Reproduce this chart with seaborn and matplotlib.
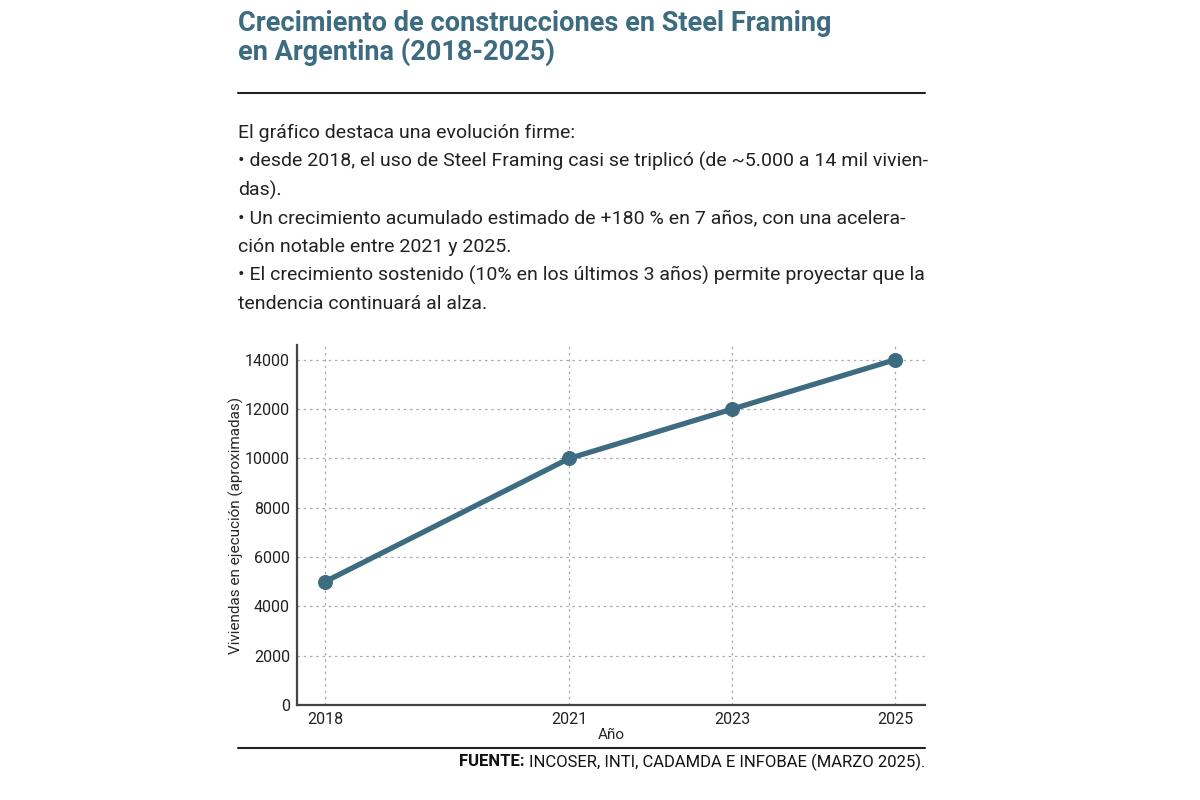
import matplotlib
matplotlib.use('Agg')
import matplotlib.pyplot as plt
import seaborn as sns
import pandas as pd

# datos
anios = [2018, 2021, 2023, 2025]
viviendas = [5000, 10000, 12000, 14000]
y_ticks = [0, 2000, 4000, 6000, 8000, 10000, 12000, 14000]

titulo = 'Crecimiento de construcciones en Steel Framing\nen Argentina (2018-2025)'
texto = ['El gráfico destaca una evolución firme:',
         '• desde 2018, el uso de Steel Framing casi se triplicó (de ~5.000 a 14 mil vivien-',
         'das).',
         '• Un crecimiento acumulado estimado de +180 % en 7 años, con una acelera-',
         'ción notable entre 2021 y 2025.',
         '• El crecimiento sostenido (10% en los últimos 3 años) permite proyectar que la',
         'tendencia continuará al alza.']

sns.set_style('white')
plt.rcParams['font.family'] = ['Roboto', 'DejaVu Sans']

azul = '#3d6b80'
gris = '#444444'

df = pd.DataFrame({'anio': anios, 'viviendas': viviendas})

fig = plt.figure(figsize=(12, 8), dpi=100)
ax = fig.add_axes([297 / 1200, 95 / 800, 628 / 1200, 360 / 800])

sns.lineplot(data=df, x='anio', y='viviendas', ax=ax, color=azul,
             linewidth=3.8, marker='o', markersize=10, markeredgecolor=azul)

ax.set_xlim(2017.656, 2025.37)
ax.set_ylim(0, 14600)
ax.set_xticks(anios)
ax.set_yticks(y_ticks)
ax.tick_params(axis='both', labelsize=11.5, colors='#222222', length=3, width=1, pad=2)
ax.grid(True, linestyle=(0, (2, 3)), color='#aaaaaa', linewidth=0.9)
for lado in ['top', 'right']:
    ax.spines[lado].set_visible(False)
for lado in ['left', 'bottom']:
    ax.spines[lado].set_color(gris)
    ax.spines[lado].set_linewidth(1.6)
ax.set_xlabel('Año', fontsize=11, labelpad=1)
ax.set_ylabel('Viviendas en ejecución (aproximadas)', fontsize=11, labelpad=1)

# titulo y texto
fig.text(238 / 1200, 1 - 10 / 800, titulo, fontsize=19.5, fontweight='bold',
         color=azul, va='top', linespacing=1.05)
fig.add_artist(plt.Line2D([238 / 1200, 925 / 1200], [1 - 93 / 800] * 2,
                          color='#222222', linewidth=1.5))
for i, linea in enumerate(texto):
    fig.text(238 / 1200, 1 - (133 + i * 28.5) / 800, linea, fontsize=14,
             color='#222222', va='center')

fig.add_artist(plt.Line2D([238 / 1200, 925 / 1200], [1 - 748 / 800] * 2,
                          color='#222222', linewidth=1.5))
fuente = fig.text(925 / 1200, 1 - 762 / 800, 'INCOSER, INTI, CADAMDA E INFOBAE (MARZO 2025).',
                  fontsize=12, ha='right', va='center', color='#111111')
r = fig.canvas.get_renderer()
bb = fuente.get_window_extent(renderer=r)
fig.text((bb.x0 - 4) / 1200, 1 - 762 / 800, 'FUENTE:', fontsize=12, fontweight='bold',
         ha='right', va='center', color='#111111')

fig.savefig('out.png', dpi=100)
